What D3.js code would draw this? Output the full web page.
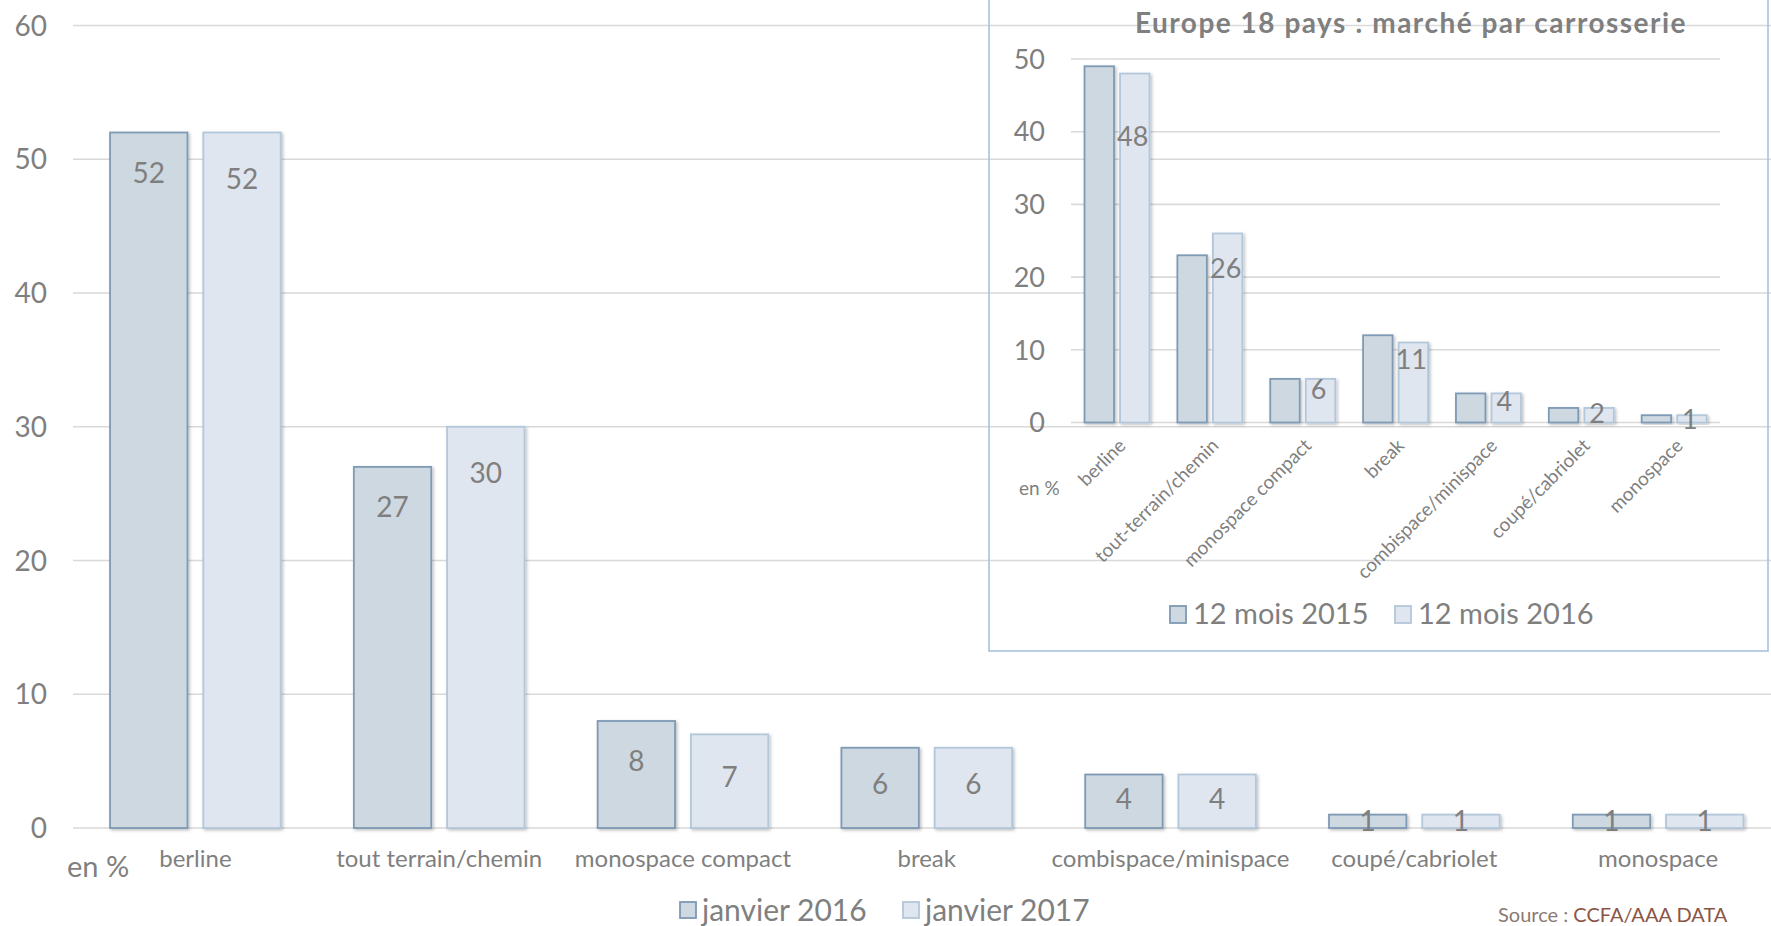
<!DOCTYPE html>
<html><head><meta charset="utf-8">
<script src="https://cdn.jsdelivr.net/npm/d3@7"></script>
<style>html,body{margin:0;padding:0;background:#fff;overflow:hidden}</style>
</head><body>
<svg id="chart" width="1771" height="926"></svg>
<script>
// ---------- data ----------
const categories = ["berline","tout terrain/chemin","monospace compact","break","combispace/minispace","coupé/cabriolet","monospace"];
const seriesNames = ["janvier 2016","janvier 2017"];
const jan2016 = [52,27,8,6,4,1,1];
const jan2017 = [52,30,7,6,4,1,1];
const yTicks = [0,10,20,30,40,50,60];

const insetTitle = "Europe 18 pays : marché par carrosserie";
const insetCategories = ["berline","tout-terrain/chemin","monospace compact","break","combispace/minispace","coupé/cabriolet","monospace"];
const insetSeriesNames = ["12 mois 2015","12 mois 2016"];
const m2015 = [49,23,6,12,4,2,1];
const m2016 = [48,26,6,11,4,2,1];
const insetTicks = [0,10,20,30,40,50];
const unitLabel = "en %";
const sourceLabel = "Source : ";
const sourceName = "CCFA/AAA DATA";

// ---------- styles ----------
const font = "Lato, 'Open Sans', sans-serif";
const grey = "#7f7f7f";
const gridCol = "#d9d9d9";
const fills = ["#cdd8e1","#dfe6ef"];
const strokes = ["#7e9ab4","#b3c7db"];

const svg = d3.select("#chart");
const defs = svg.append("defs");
const f = defs.append("filter").attr("id","sh").attr("x","-20%").attr("y","-20%").attr("width","150%").attr("height","150%");
f.append("feDropShadow").attr("dx",1.5).attr("dy",1.5).attr("stdDeviation",1.6).attr("flood-color","#000").attr("flood-opacity",0.25);

// ---------- main chart ----------
const y = d3.scaleLinear().domain([0,60]).range([828,25.5]);
const x0 = d3.scaleBand().domain(categories).range([73.5,1780]).paddingInner(0.3).paddingOuter(0.15);
const x1 = d3.scaleBand().domain([0,1]).range([0,x0.bandwidth()]).paddingInner(0.17);

const main = svg.append("g");
main.append("g").selectAll("line").data(yTicks).join("line")
  .attr("x1",73).attr("x2",1771).attr("y1",d=>y(d)).attr("y2",d=>y(d))
  .attr("stroke",gridCol).attr("stroke-width",1.6);
main.append("g").selectAll("text").data(yTicks).join("text")
  .attr("x",47).attr("y",d=>y(d)).attr("dy","0.36em").attr("text-anchor","end")
  .attr("font-family",font).attr("font-size",28).attr("fill",grey).text(d=>d);

const mainData = categories.map((c,i)=>({c, vals:[jan2016[i],jan2017[i]]}));
const groups = main.append("g").selectAll("g").data(mainData).join("g")
  .attr("transform",d=>`translate(${x0(d.c)},0)`);
groups.selectAll("rect").data(d=>d.vals.map((v,k)=>({v,k}))).join("rect")
  .attr("x",d=>x1(d.k)).attr("width",x1.bandwidth())
  .attr("y",d=>y(d.v)).attr("height",d=>y(0)-y(d.v))
  .attr("fill",d=>fills[d.k]).attr("stroke",d=>strokes[d.k]).attr("stroke-width",1.8)
  .attr("filter","url(#sh)");
groups.selectAll("text").data(d=>d.vals.map((v,k)=>({v,k}))).join("text")
  .attr("x",d=>x1(d.k)+x1.bandwidth()/2)
  .attr("y",d=>{const h=y(0)-y(d.v);return y(d.v)+Math.min(40+d.k*6,h*0.45);})
  .attr("dy","0.36em").attr("text-anchor","middle")
  .attr("font-family",font).attr("font-size",28).attr("fill",grey).text(d=>d.v);

main.append("g").selectAll("text").data(categories).join("text")
  .attr("x",d=>x0(d)+x0.bandwidth()/2).attr("y",858).attr("dy","0.36em")
  .attr("text-anchor","middle").attr("font-family",font).attr("font-size",24).attr("fill",grey).text(d=>d);
main.append("text").attr("x",67).attr("y",867).attr("dy","0.36em")
  .attr("font-family",font).attr("font-size",29).attr("fill",grey).text(unitLabel);

// main legend
const legPos = [680,903];
seriesNames.forEach((n,k)=>{
  main.append("rect").attr("x",legPos[k]).attr("y",902).attr("width",16).attr("height",16)
    .attr("fill",fills[k]).attr("stroke",strokes[k]).attr("stroke-width",1.8);
  main.append("text").attr("x",legPos[k]+22).attr("y",910).attr("dy","0.36em")
    .attr("font-family",font).attr("font-size",30).attr("fill",grey).text(n);
});

// source (at the bottom edge, kept readable)
const src = svg.append("text").attr("x",1498).attr("y",922).attr("font-family",font).attr("font-size",20);
src.append("tspan").attr("fill","#8a7a74").text(sourceLabel);
src.append("tspan").attr("fill","#8b5546").text(sourceName);

// ---------- inset ----------
const ins = svg.append("g");
ins.append("rect").attr("x",989).attr("y",-5).attr("width",779).attr("height",656)
  .attr("fill","none").attr("stroke","#a7c2dc").attr("stroke-width",1.6);
ins.append("text").attr("x",1411).attr("y",22.6).attr("dy","0.36em").attr("text-anchor","middle")
  .attr("font-family",font).attr("font-weight","bold").attr("font-size",28).attr("letter-spacing",1.5)
  .attr("fill",grey).text(insetTitle);

const yi = d3.scaleLinear().domain([0,50]).range([422.5,59]);
const xi0 = d3.scaleBand().domain(insetCategories).range([1070.6,1720.6]).paddingInner(0.3).paddingOuter(0.15);
const xi1 = d3.scaleBand().domain([0,1]).range([0,xi0.bandwidth()]).paddingInner(0.17);

ins.append("g").selectAll("line").data(insetTicks).join("line")
  .attr("x1",1071).attr("x2",1720).attr("y1",d=>yi(d)).attr("y2",d=>yi(d))
  .attr("stroke",gridCol).attr("stroke-width",1.6);
ins.append("g").selectAll("text").data(insetTicks).join("text")
  .attr("x",1045).attr("y",d=>yi(d)).attr("dy","0.36em").attr("text-anchor","end")
  .attr("font-family",font).attr("font-size",27).attr("fill",grey).text(d=>d);

const insData = insetCategories.map((c,i)=>({c, vals:[m2015[i],m2016[i]]}));
const ig = ins.append("g").selectAll("g").data(insData).join("g")
  .attr("transform",d=>`translate(${xi0(d.c)},0)`);
ig.selectAll("rect").data(d=>d.vals.map((v,k)=>({v,k}))).join("rect")
  .attr("x",d=>xi1(d.k)).attr("width",xi1.bandwidth())
  .attr("y",d=>yi(d.v)).attr("height",d=>yi(0)-yi(d.v))
  .attr("fill",d=>fills[d.k]).attr("stroke",d=>strokes[d.k]).attr("stroke-width",1.8)
  .attr("filter","url(#sh)");
ig.selectAll("text").data(d=>[{v:d.vals[1],k:1}]).join("text")
  .attr("x",d=>xi1(d.k)+xi1.bandwidth()/2-2)
  .attr("y",d=>{const h=yi(0)-yi(d.v);return yi(d.v)+0.17*h+3;})
  .attr("dy","0.36em").attr("text-anchor","middle")
  .attr("font-family",font).attr("font-size",27).attr("fill",grey).text(d=>d.v);

ins.append("g").selectAll("text").data(insetCategories).join("text")
  .attr("transform",d=>`translate(${xi0(d)+xi0.bandwidth()/2+5},442) rotate(-45)`)
  .attr("text-anchor","end").attr("dy","0.36em")
  .attr("font-family",font).attr("font-size",19).attr("fill",grey).text(d=>d);
ins.append("text").attr("x",1019).attr("y",488).attr("dy","0.36em")
  .attr("font-family",font).attr("font-size",19).attr("fill",grey).text(unitLabel);

const ilegPos = [1170,1395];
insetSeriesNames.forEach((n,k)=>{
  ins.append("rect").attr("x",ilegPos[k]).attr("y",606).attr("width",16).attr("height",17)
    .attr("fill",fills[k]).attr("stroke",strokes[k]).attr("stroke-width",1.8);
  ins.append("text").attr("x",ilegPos[k]+23).attr("y",614).attr("dy","0.36em")
    .attr("font-family",font).attr("font-size",29).attr("fill",grey).text(n);
});
</script>
</body></html>
